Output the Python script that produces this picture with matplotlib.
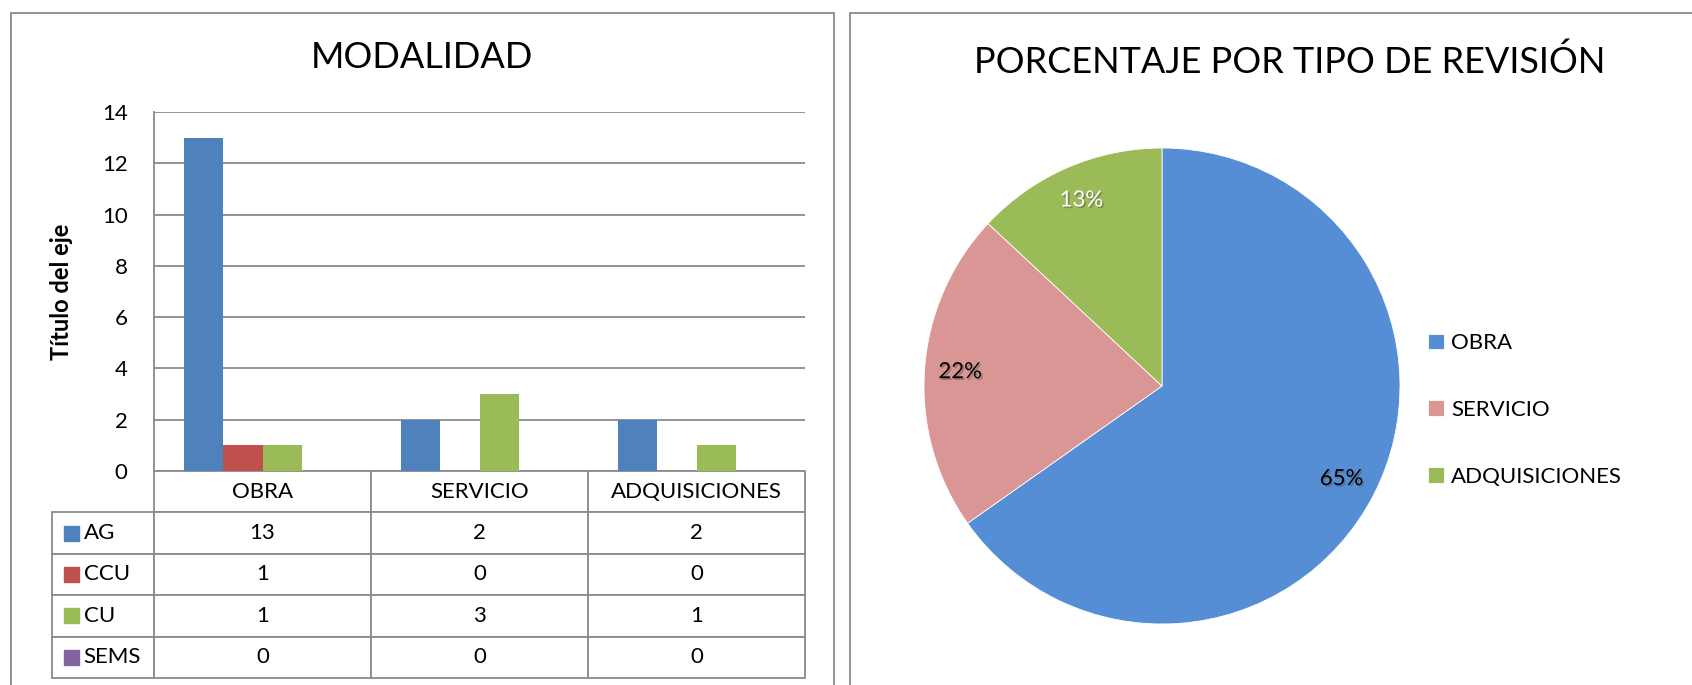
import numpy as np
import matplotlib
matplotlib.use('Agg')
import matplotlib.pyplot as plt
import matplotlib.patheffects as pe
from matplotlib.patches import Rectangle

plt.rcParams['font.family'] = ['Lato', 'DejaVu Sans']

# data
categories = ['OBRA', 'SERVICIO', 'ADQUISICIONES']
series = ['AG', 'CCU', 'CU', 'SEMS']
ag = [13, 2, 2]
ccu = [1, 0, 0]
cu = [1, 3, 1]
sems = [0, 0, 0]
yticks = [0, 2, 4, 6, 8, 10, 12, 14]

pie_labels = ['OBRA', 'SERVICIO', 'ADQUISICIONES']
pie_values = [15, 5, 3]

bar_colors = ['#4F81BD', '#C0504D', '#9BBB59', '#8064A2']
pie_colors = ['#558ED5', '#D99694', '#9BBB59']
line_c = '#8a8a8a'

W, H = 1692, 685
fig = plt.figure(figsize=(W / 100, H / 100), dpi=100)


def px_box(x0, y0, x1, y1):
    return [x0 / W, 1 - y1 / H, (x1 - x0) / W, (y1 - y0) / H]


# panel frames
for x0, x1 in [(11, 834), (850, 1720)]:
    fig.patches.append(Rectangle((x0 / W, -0.1), (x1 - x0) / W, 1.1 - 13 / H,
                                 transform=fig.transFigure, fill=False,
                                 ec=line_c, lw=1.3))

# ---- bar chart ----
L, T, R, B = 154, 112, 805, 471
ax = fig.add_axes(px_box(L, T, R, B))
data = [ag, ccu, cu, sems]
x = np.arange(len(categories))
w = 0.18
for i, (name, vals) in enumerate(zip(series, data)):
    ax.bar(x + (i - 1.5) * w, vals, w, color=bar_colors[i], label=name, zorder=3)
ax.set_xlim(-0.5, len(categories) - 0.5)
ax.set_ylim(0, 14)
ax.set_yticks(yticks)
ax.set_xticks([])
ax.yaxis.grid(True, color=line_c, lw=1.3)
ax.set_axisbelow(True)
for s in ['top', 'right', 'bottom']:
    ax.spines[s].set_visible(False)
ax.spines['left'].set_color(line_c)
ax.spines['left'].set_linewidth(1.3)
ax.tick_params(axis='y', length=0, pad=19, labelsize=16)
ax.set_ylabel('Título del eje', fontsize=17, fontweight='bold')
ax.yaxis.set_label_coords((73 - L) / (R - L), 0.5)

# data table under the bars
tl, tb = 52, 678
row_w = [102, 217, 217, 217]
cell_text = [[name] + [str(v) for v in vals] for name, vals in zip(series, data)]
bbox = [(tl - L) / (R - L), (B - tb) / (B - T), (R - tl) / (R - L), (tb - B) / (B - T)]
tbl = ax.table(cellText=cell_text, colLabels=[''] + categories,
               colWidths=[v / sum(row_w) for v in row_w],
               cellLoc='center', bbox=bbox)
tbl.auto_set_font_size(False)
tbl.set_fontsize(16)
for (r, c), cell in tbl.get_celld().items():
    cell.set_edgecolor(line_c)
    cell.set_linewidth(1.3)
    if r == 0 and c == 0:
        cell.visible_edges = ''
    if c == 0 and r > 0:
        cell._loc = 'left'
        cell.PAD = 0.31
        cell.get_text().set_ha('left')

# colour keys in the row labels
row_h = (tb - B) / (len(series) + 1)
key = 15
for i, col in enumerate(bar_colors):
    cy = B + row_h * (i + 1.5)
    fig.patches.append(Rectangle((64 / W, 1 - (cy + key / 2) / H), key / W, key / H,
                                 transform=fig.transFigure, color=col))

fig.text(422 / W, 1 - 57 / H, 'MODALIDAD', ha='center', va='center',
         fontsize=26, color='black')

# ---- pie chart ----
cx, cy, rad = 1162, 386, 238
pax = fig.add_axes(px_box(cx - rad, cy - rad, cx + rad, cy + rad))
wedges, texts, autotexts = pax.pie(pie_values, colors=pie_colors, startangle=90,
                                   counterclock=False, autopct='%1.0f%%',
                                   pctdistance=0.85,
                                   wedgeprops=dict(ec='white', lw=0.6))
pax.set_xlim(-1, 1)
pax.set_ylim(-1, 1)
shadow = [pe.SimplePatchShadow(offset=(1.2, -1.2), shadow_rgbFace='#555555', alpha=0.5),
          pe.Normal()]
for t, c in zip(autotexts, ['black', 'black', 'white']):
    t.set_color(c)
    t.set_fontsize(16)
    t.set_path_effects(shadow)

fig.legend(wedges, pie_labels, loc='center left',
           bbox_to_anchor=(1428 / W, 1 - 410 / H), frameon=False, fontsize=16,
           handlelength=0.7, handleheight=0.7, handletextpad=0.35,
           labelspacing=2.1, borderpad=0, borderaxespad=0)

fig.text(1290 / W, 1 - 62 / H, 'PORCENTAJE POR TIPO DE REVISIÓN', ha='center',
         va='center', fontsize=26, color='black')

fig.savefig('out.png', dpi=100)
